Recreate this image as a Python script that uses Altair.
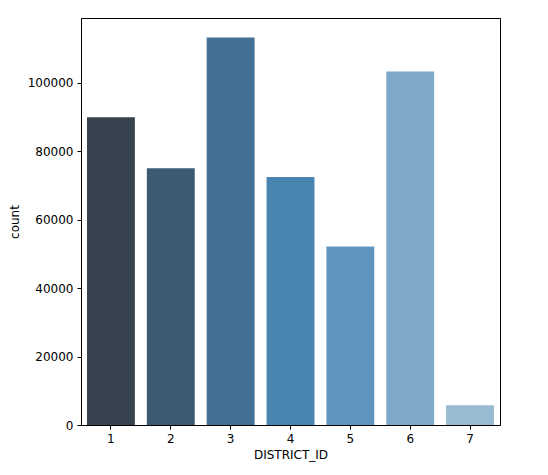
import pandas as pd
import altair as alt

# ------- data -------------------------------
district_ids = [1, 2, 3, 4, 5, 6, 7]
counts = [89900, 75000, 113200, 72400, 52100, 103200, 5740]
bar_colors = ["#37444f", "#3c5a72", "#426f92", "#4a84b0", "#5f95bf", "#7ea8c8", "#98bad3"]
y_ticks = [0, 20000, 40000, 60000, 80000, 100000]

df = pd.DataFrame({"DISTRICT_ID": district_ids, "count": counts})

font = "DejaVu Sans"

chart = alt.Chart(df).mark_bar().encode(
    x=alt.X(
        "DISTRICT_ID:O",
        title="DISTRICT_ID",
        scale=alt.Scale(paddingInner=0.2, paddingOuter=0.1),
        axis=alt.Axis(labelAngle=0, tickSize=4, labelPadding=4, titlePadding=5,
                      domainColor="black", tickColor="black"),
    ),
    y=alt.Y(
        "count:Q",
        title="count",
        scale=alt.Scale(domain=[0, 118860], nice=False),
        axis=alt.Axis(values=y_ticks, format="d", grid=False, tickSize=4,
                      labelPadding=4, titlePadding=6,
                      domainColor="black", tickColor="black"),
    ),
    color=alt.Color(
        "DISTRICT_ID:O",
        scale=alt.Scale(domain=district_ids, range=bar_colors),
        legend=None,
    ),
).properties(
    width=419,
    height=407,
    autosize=alt.AutoSizeParams(type="none"),
    padding={"left": 73, "top": 10, "right": 40, "bottom": 50},
).configure_view(
    stroke="black",
    strokeWidth=1,
).configure_axis(
    labelFont=font,
    titleFont=font,
    labelFontSize=12,
    titleFontSize=12,
    titleFontWeight="normal",
    labelColor="black",
    titleColor="black",
)

chart.save("out.html", embed_options={"renderer": "svg", "actions": False})
